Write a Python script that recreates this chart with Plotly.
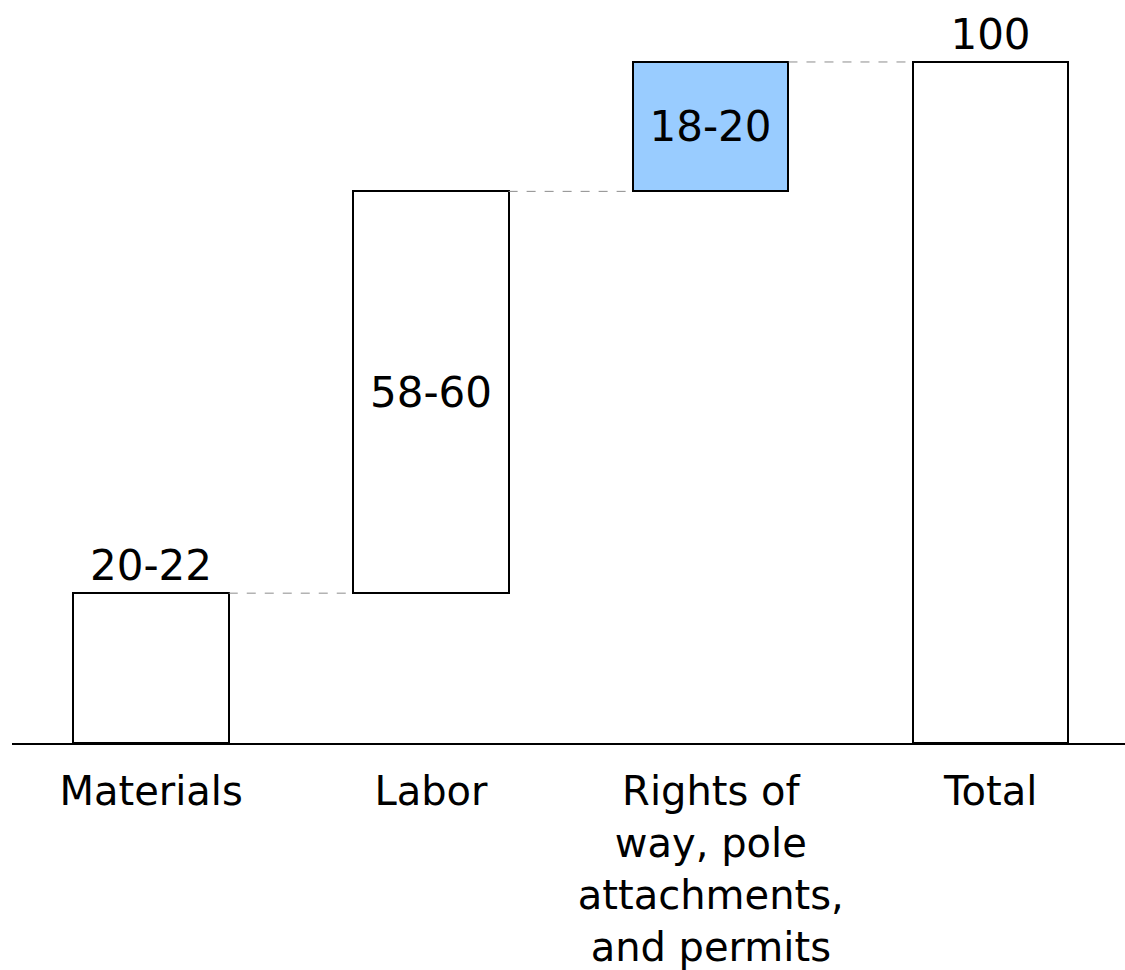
import plotly.graph_objects as go

# Cost breakdown (share of total, %)
categories = ["Materials", "Labor", "Rights of<br>way, pole<br>attachments,<br>and permits", "Total"]
values = [22, 59, 19, 100]
labels = ["20-22", "58-60", "18-20", "100"]
is_total = [False, False, False, True]
colors = ["white", "white", "#99CCFF", "white"]
text_pos = ["outside", "inside", "inside", "outside"]

# Floating bases for the waterfall steps
bases = []
running = 0
for v, tot in zip(values, is_total):
    if tot:
        bases.append(0)
    else:
        bases.append(running)
        running += v

bar_width = 0.555
xs = list(range(len(categories)))

fig = go.Figure()
fig.add_trace(go.Bar(
    x=xs,
    y=values,
    base=bases,
    width=bar_width,
    marker=dict(color=colors, line=dict(color="black", width=2)),
    text=labels,
    textposition=text_pos,
    insidetextanchor="middle",
    textfont=dict(family="DejaVu Sans", size=42, color="black"),
    constraintext="none",
    cliponaxis=False,
    hoverinfo="skip",
    showlegend=False,
))

# Dashed connectors between consecutive bar tops
for i in range(len(values) - 1):
    level = bases[i] + values[i]
    fig.add_trace(go.Scatter(
        x=[xs[i] + bar_width / 2, xs[i + 1] - bar_width / 2],
        y=[level, level],
        mode="lines",
        line=dict(color="#8c8c8c", width=1, dash="dash"),
        hoverinfo="skip",
        showlegend=False,
    ))

fig.update_layout(
    width=1125,
    height=970,
    margin=dict(l=12, r=0, t=0, b=227),
    paper_bgcolor="white",
    plot_bgcolor="white",
    font=dict(family="DejaVu Sans", size=40, color="black"),
    bargap=0,
    xaxis=dict(
        range=[-0.497, 3.48],
        tickmode="array",
        tickvals=xs,
        ticktext=categories,
        showgrid=False,
        zeroline=False,
        showline=True,
        linecolor="black",
        linewidth=1.5,
        ticks="",
        automargin=False,
        ticklabelstandoff=12,
        tickfont=dict(family="DejaVu Sans", size=40, color="black"),
    ),
    yaxis=dict(
        range=[0, 109.1],
        visible=False,
        showgrid=False,
        zeroline=False,
        automargin=False,
    ),
)

fig.write_html("out.html")
